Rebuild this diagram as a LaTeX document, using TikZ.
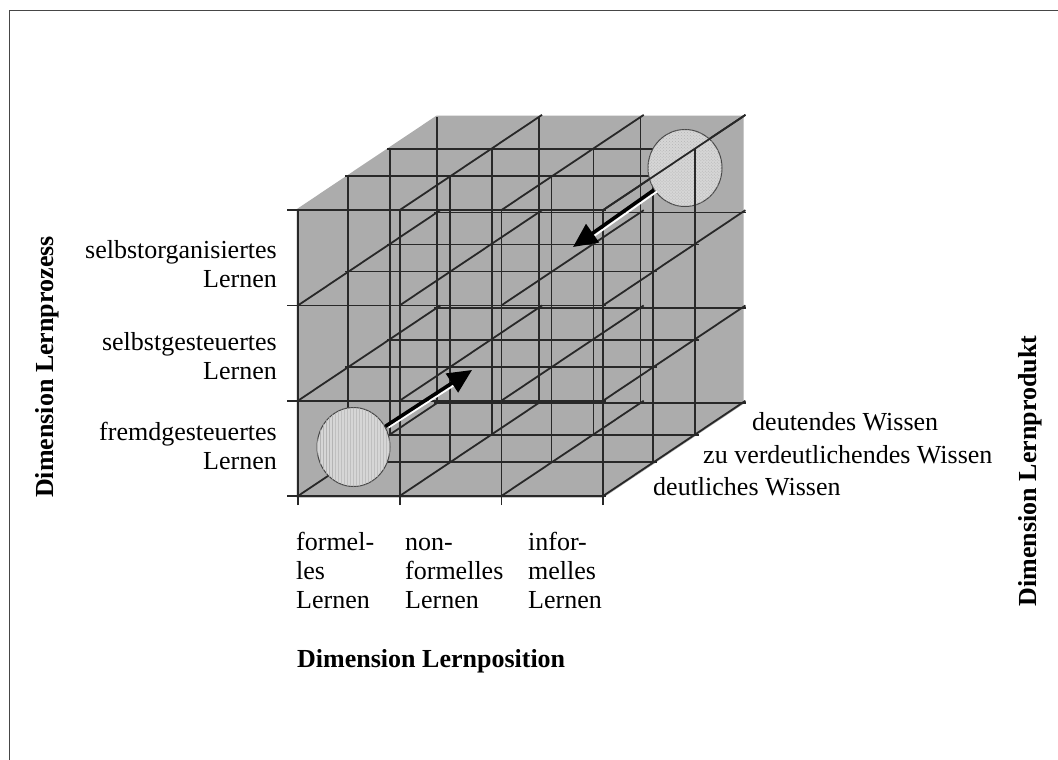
\documentclass[tikz,border=0pt]{standalone}
\usepackage{fontspec}
\setmainfont{Liberation Serif}
\usetikzlibrary{arrows.meta,patterns,shapes.geometric,calc}
\definecolor{cubefill}{RGB}{172,172,172}
\definecolor{gridcol}{RGB}{40,40,40}
\definecolor{ballfill}{RGB}{214,214,214}
\definecolor{balltex}{RGB}{180,180,180}
\definecolor{framecol}{RGB}{70,70,70}
\begin{document}
\begin{tikzpicture}[x=1bp,y=-1bp,
  gridline/.style={draw=gridcol, line width=1.8bp},
  lbl/.style={font=\fontsize{26bp}{29bp}\selectfont, inner sep=0pt},
  dimlbl/.style={font=\fontsize{26bp}{29bp}\selectfont\bfseries, inner sep=0pt},
  ball/.style={ellipse, draw=gridcol!85, line width=1bp, fill=ballfill, inner sep=0pt},
  bigarrow/.style={draw=black, line width=3.5bp, -{Triangle[length=24bp,width=22bp]}},
  highlight/.style={draw=white, line width=1.8bp}
]
\useasboundingbox (0,0) rectangle (1058,760);
\fill[white] (0,0) rectangle (1058,760);
\draw[framecol, line width=1.2bp] (9.5,760) -- (9.5,10.5) -- (1058,10.5);

% lattice points p<i><j><k>: i = column, j = row (bottom=0), k = depth
\foreach \i in {0,1,2,3}{
  \foreach \j in {0,1,2,3}{
    \foreach \k/\dx/\dy in {0/0/0,1/50/-34,2/92/-61,3/139/-93}{
      \coordinate (p\i\j\k) at ({298+101.7*\i+\dx},{496-95.3*\j+\dy});
    }}}

% grey body of the cube
\fill[cubefill, draw=cubefill, line width=3bp] (p000) -- (p030) -- (p033) -- (p333) -- (p303) -- (p300) -- cycle;

% lines along x
\foreach \j in {0,1,2,3}{\foreach \k in {0,1,2,3}{
  \pgfmathtruncatemacro\myskip{(\j==3)&&(\k==3)}
  \ifnum\myskip=0
    \ifnum\k=0
      \draw[gridline, shorten <=-11bp, shorten >=-3bp] (p0\j\k) -- (p3\j\k);
    \else
      \draw[gridline, shorten <=-3bp, shorten >=-4bp] (p0\j\k) -- (p3\j\k);
    \fi
  \fi}}
% lines along y
\foreach \i in {0,1,2,3}{\foreach \k in {0,1,2,3}{
  \pgfmathtruncatemacro\myskip{(\i==3)&&(\k==3)}
  \ifnum\myskip=0
    \ifnum\k=0
      \draw[gridline, shorten <=-9bp] (p\i0\k) -- (p\i3\k);
    \else
      \draw[gridline] (p\i0\k) -- (p\i3\k);
    \fi
  \fi}}
% lines along depth
\foreach \i in {0,1,2,3}{\foreach \j in {0,1,2,3}{
  \pgfmathtruncatemacro\myskip{(\i==0)&&(\j==3)}
  \ifnum\myskip=0
    \draw[gridline, shorten >=-4bp] (p\i\j0) -- (p\i\j3);
  \fi}}

% top-right ball
\node[ball, minimum width=74bp, minimum height=77bp,
      postaction={pattern=crosshatch dots, pattern color=balltex}] (b1) at (685,168) {};
\draw[gridline, shorten >=-4bp] (p330) -- (p333);
\draw[gridline] (p302) -- (p332);

% bottom-left ball
\node[ball, minimum width=73bp, minimum height=79bp,
      postaction={pattern=vertical lines, pattern color=balltex}] (b2) at (353.5,447) {};

% arrows
\coordinate (t1) at (573,247);
\coordinate (t2) at (472,370);
\coordinate (h1s) at (657,191.5);
\coordinate (h1e) at (594,236);
\coordinate (h2s) at (388.6,427.5);
\coordinate (h2e) at (453.5,385.6);
\draw[highlight] (h1s) -- (h1e);
\draw[highlight] (h2s) -- (h2e);
\draw[bigarrow] (b1) -- (t1);
\draw[bigarrow] (b2) -- (t2);

% left labels
\node[lbl, anchor=base east] (lp3) at (277,258) {\begin{tabular}[t]{@{}r@{}}selbstorganisiertes\\Lernen\end{tabular}};
\node[lbl, anchor=base east] (lp2) at (277,350) {\begin{tabular}[t]{@{}r@{}}selbstgesteuertes\\Lernen\end{tabular}};
\node[lbl, anchor=base east] (lp1) at (277,440) {\begin{tabular}[t]{@{}r@{}}fremdgesteuertes\\Lernen\end{tabular}};

% bottom labels
\node[lbl, anchor=base west] (bp1) at (296,550) {\begin{tabular}[t]{@{}l@{}}formel-\\les\\Lernen\end{tabular}};
\node[lbl, anchor=base west] (bp2) at (405,550) {\begin{tabular}[t]{@{}l@{}}non-\\formelles\\Lernen\end{tabular}};
\node[lbl, anchor=base west] (bp3) at (528,550) {\begin{tabular}[t]{@{}l@{}}infor-\\melles\\Lernen\end{tabular}};

% right labels
\node[lbl, anchor=base west] (rp3) at (752,430) {deutendes Wissen};
\node[lbl, anchor=base west] (rp2) at (703,463) {zu verdeutlichendes Wissen};
\node[lbl, anchor=base west] (rp1) at (653,495) {deutliches Wissen};

% dimension titles
\node[dimlbl, rotate=90] (dproz) at (47,367) {Dimension Lernprozess};
\node[dimlbl, rotate=90] (dprod) at (1030,471) {Dimension Lernprodukt};
\node[dimlbl, anchor=base west] (dpos) at (297,667) {Dimension Lernposition};
\end{tikzpicture}
\end{document}
